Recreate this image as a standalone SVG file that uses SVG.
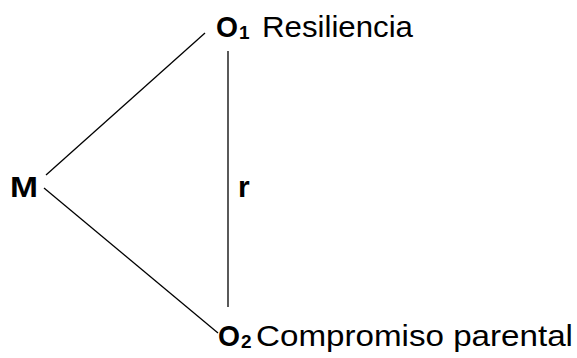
<svg xmlns="http://www.w3.org/2000/svg" width="577" height="358" viewBox="0 0 577 358">
<style>
text{font-family:"Liberation Sans",Arial,sans-serif;fill:#000;font-size:30px}
.b{font-weight:bold}
.s{font-size:19px}
.l{stroke:#000;stroke-width:1.3;fill:none}
</style>
<rect width="577" height="358" fill="#fff"/>
<g id="connectors">
<line class="l" x1="46" y1="175" x2="205" y2="33"/>
<line class="l" x1="44" y1="188" x2="218" y2="333"/>
<line class="l" x1="228" y1="51" x2="228" y2="307"/>
</g>
<g id="node-M"><text x="10" y="197" class="b" textLength="28" lengthAdjust="spacingAndGlyphs">M</text></g>
<g id="node-O1">
<text x="216" y="37" class="b" textLength="22" lengthAdjust="spacingAndGlyphs">O</text>
<text x="239" y="39" class="b s">1</text>
<text x="262" y="37" textLength="151" lengthAdjust="spacingAndGlyphs">Resiliencia</text>
</g>
<g id="node-O2">
<text x="218" y="346" class="b" textLength="22" lengthAdjust="spacingAndGlyphs">O</text>
<text x="241" y="348" class="b s">2</text>
<text x="256" y="346" textLength="317" lengthAdjust="spacingAndGlyphs">Compromiso parental</text>
</g>
<g id="label-r"><text x="238" y="197" class="b">r</text></g>
</svg>
